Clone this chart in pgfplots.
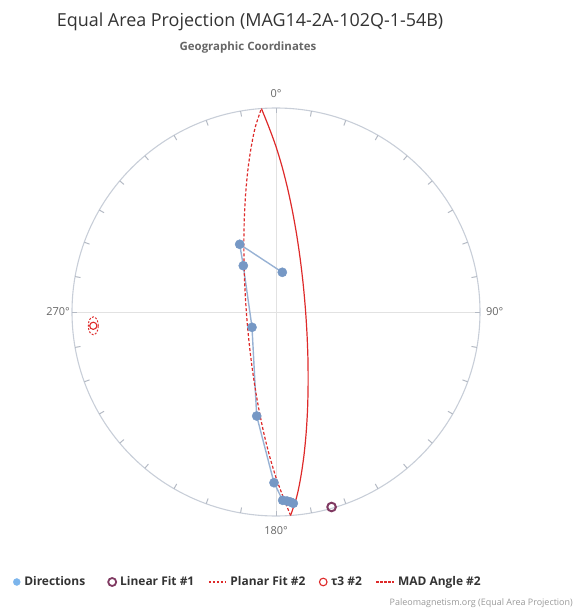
\documentclass[border=0pt]{standalone}
\usepackage{pgfplots}
\pgfplotsset{compat=1.18}
\usepackage{fontspec}
\setmainfont{Open Sans}
\definecolor{circc}{RGB}{200,206,216}
\definecolor{tickc}{RGB}{180,186,196}
\definecolor{gridc}{RGB}{226,226,226}
\definecolor{labc}{RGB}{102,102,102}
\definecolor{titc}{RGB}{51,51,51}
\definecolor{dirc}{RGB}{118,152,197}
\definecolor{dirline}{RGB}{152,178,212}
\definecolor{legblue}{RGB}{124,181,236}
\definecolor{fitred}{RGB}{222,42,42}
\definecolor{linfit}{RGB}{128,58,98}
\definecolor{credc}{RGB}{153,153,153}
\begin{document}
\begin{tikzpicture}
\path[use as bounding box] (-276bp,-299bp) rectangle (301bp,312bp);
\draw[gridc, line width=1bp] (-204bp,0) -- (204bp,0);
\draw[gridc, line width=1bp] (0,-204bp) -- (0,204bp);
\draw[circc, line width=1.1bp] (0,0) circle (204bp);
\foreach \a in {0,10,...,350} \draw[tickc, line width=1bp] (\a:204bp) -- (\a:198.5bp);
\node[font=\fontsize{18}{21}\selectfont, text=titc] at (-26bp,290bp) {Equal Area Projection (MAG14-2A-102Q-1-54B)};
\node[font=\bfseries\fontsize{11.5}{14}\selectfont, text=labc] at (-28bp,264bp) {Geographic Coordinates};
\node[font=\fontsize{11}{13}\selectfont, text=labc] at (0bp,218bp) {0°};
\node[font=\fontsize{11}{13}\selectfont, text=labc] at (0bp,-219bp) {180°};
\node[font=\fontsize{11}{13}\selectfont, text=labc, anchor=west, inner sep=0pt] at (210bp,0bp) {90°};
\node[font=\fontsize{11}{13}\selectfont, text=labc, anchor=east, inner sep=0pt] at (-206bp,0bp) {270°};
\node[font=\fontsize{9}{11}\selectfont, text=credc, anchor=east, inner sep=0pt] at (297bp,-291bp) {Paleomagnetism.org (Equal Area Projection)};
\begin{axis}[
  anchor=origin, at={(0,0)},
  x=204bp, y=204bp,
  xmin=-1.02, xmax=1.02, ymin=-1.02, ymax=1.02,
  axis lines=none, clip=false,
  legend columns=-1,
  legend style={at={(axis cs:-0.1176,-1.3235)}, anchor=center, draw=none, fill=none,
    font=\bfseries\fontsize{12}{14}\selectfont, text=titc,
    /tikz/every odd column/.append style={column sep=2bp},
    /tikz/every even column/.append style={column sep=12bp}},
  legend cell align=left,
]
% directions connecting line
\addplot[dirline, line width=1.4bp, forget plot] coordinates {
(0.0309,0.1946) (-0.1779,0.3319) (-0.1603,0.2270) (-0.1176,-0.0750) (-0.0946,-0.5098)
(-0.0098,-0.8368) (0.0328,-0.9230) (0.0539,-0.9265) (0.0711,-0.9314) (0.0848,-0.9377)};
% planar fit, lower hemisphere (solid)
\addplot[fitred, line width=1.2bp, smooth, forget plot] coordinates {
(-0.0715,0.9974) (-0.0364,0.9102) (-0.0014,0.8151) (0.0296,0.7131) (0.0570,0.6053)
(0.0810,0.4924) (0.1018,0.3755) (0.1193,0.2554) (0.1336,0.1332) (0.1446,0.0098)
(0.1523,-0.1139) (0.1567,-0.2367) (0.1574,-0.3579) (0.1547,-0.4765) (0.1479,-0.5914)
(0.1372,-0.7019) (0.1219,-0.8069) (0.1017,-0.9058) (0.0715,-0.9974)};
% planar fit, upper hemisphere (dashed)
\addplot[fitred, line width=1.2bp, smooth, dash pattern=on 3bp off 2bp, forget plot] coordinates {
(0.0715,-0.9974) (0.0364,-0.9102) (0.0014,-0.8151) (-0.0296,-0.7131) (-0.0570,-0.6053)
(-0.0810,-0.4924) (-0.1018,-0.3755) (-0.1193,-0.2554) (-0.1336,-0.1332) (-0.1446,-0.0098)
(-0.1523,0.1139) (-0.1567,0.2367) (-0.1574,0.3579) (-0.1547,0.4765) (-0.1479,0.5914)
(-0.1372,0.7019) (-0.1219,0.8069) (-0.1017,0.9058) (-0.0715,0.9974)};
% directions
\addplot[only marks, mark=*, mark size=4.6bp, draw=dirc, fill=dirc, forget plot] coordinates {
(0.0309,0.1946) (-0.1779,0.3319) (-0.1603,0.2270) (-0.1176,-0.0750) (-0.0946,-0.5098)
(-0.0098,-0.8368) (0.0328,-0.9230) (0.0539,-0.9265) (0.0711,-0.9314) (0.0848,-0.9377)};
% linear fit
\addplot[only marks, mark=o, mark size=4.3bp, line width=2bp, linfit, forget plot] coordinates {(0.2725,-0.9559)};
% MAD ellipse
\addplot[fitred, line width=1bp, smooth, dash pattern=on 2bp off 1.5bp, forget plot] coordinates {
(-0.8711,-0.0676) (-0.8744,-0.0456) (-0.8834,-0.0295) (-0.8956,-0.0236) (-0.9079,-0.0295)
(-0.9168,-0.0456) (-0.9201,-0.0676) (-0.9168,-0.0896) (-0.9079,-0.1057) (-0.8956,-0.1116)
(-0.8834,-0.1057) (-0.8744,-0.0896) (-0.8711,-0.0676)};
% tau3
\addplot[only marks, mark=o, mark size=3.6bp, line width=1.1bp, fitred, forget plot] coordinates {(-0.8956,-0.0676)};
% legend
\addlegendimage{only marks, mark=*, mark size=3.5bp, draw=legblue, fill=legblue}
\addlegendentry{Directions\rule{9bp}{0pt}}
\addlegendimage{only marks, mark=o, mark size=4bp, line width=1.8bp, draw=linfit}
\addlegendentry{Linear Fit \#1}
\addlegendimage{draw=fitred, line width=1.1bp, dash pattern=on 2.5bp off 1.5bp}
\addlegendentry{Planar Fit \#2}
\addlegendimage{only marks, mark=o, mark size=3.8bp, line width=1.1bp, draw=fitred}
\addlegendentry{τ3 \#2}
\addlegendimage{draw=fitred, line width=1.1bp, dash pattern=on 2.5bp off 1.5bp}
\addlegendentry{MAD Angle \#2\rule{8bp}{0pt}}
\end{axis}
\end{tikzpicture}
\end{document}
